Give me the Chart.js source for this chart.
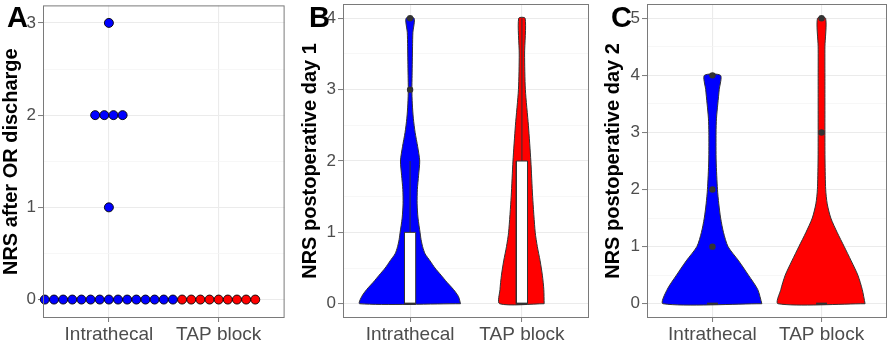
<!DOCTYPE html>
<html>
<head>
<meta charset="utf-8">
<script src="https://cdn.jsdelivr.net/npm/chart.js@4.4.1/dist/chart.umd.min.js"></script>
<style>
  html, body { margin: 0; padding: 0; background: #fff; }
  #wrap { position: relative; width: 893px; height: 342px; overflow: hidden; font-family: "Liberation Sans", Arial, sans-serif; }
  .panel { position: absolute; top: 0; height: 342px; }
  .tag { position: absolute; top: 3px; font-weight: bold; font-size: 29px; line-height: 29px; color: #000; z-index: 2; }
</style>
</head>
<body>
<div id="wrap">
  <div class="panel" style="left:0;width:290px"><canvas id="chartA"></canvas></div>
  <div class="panel" style="left:293px;width:300px"><canvas id="chartB"></canvas></div>
  <div class="panel" style="left:593px;width:300px"><canvas id="chartC"></canvas></div>
  <div class="tag" style="left:7px">A</div>
  <div class="tag" style="left:309px">B</div>
  <div class="tag" style="left:611px">C</div>
</div>
<script>
const categories = ['Intrathecal', 'TAP block'];
const groupColors = ['#0000FF', '#FF0000'];

// panel A - NRS after OR discharge, one value per patient
const orIntrathecal = [0, 0, 0, 0, 0, 0, 0, 0, 0, 0, 0, 0, 0, 0, 0, 1, 2, 2, 2, 2, 3];
const orTap = [0, 0, 0, 0, 0, 0, 0, 0, 0];

// violin outlines: [NRS, half width]
const day1ViolinIntrathecal = [
  [0, 0.451], [0.1, 0.433], [0.2, 0.388], [0.3, 0.330], [0.4, 0.277], [0.5, 0.223],
  [0.6, 0.179], [0.7, 0.134], [0.8, 0.112], [0.9, 0.098], [1.0, 0.089], [1.2, 0.071],
  [1.4, 0.063], [1.6, 0.065], [1.8, 0.076], [2.0, 0.086], [2.2, 0.068], [2.4, 0.045],
  [2.6, 0.029], [2.8, 0.020], [3.0, 0.016], [3.2, 0.018], [3.4, 0.020], [3.6, 0.022],
  [3.8, 0.025], [4.0, 0.036]
];
const day1ViolinTap = [
  [0, 0.199], [0.2, 0.196], [0.4, 0.183], [0.6, 0.163], [0.8, 0.138], [1.0, 0.119],
  [1.5, 0.096], [2.0, 0.080], [2.5, 0.058], [3.0, 0.031], [3.5, 0.024], [4.0, 0.029]
];
const day2ViolinIntrathecal = [
  [0, 0.453], [0.25, 0.415], [0.5, 0.330], [0.75, 0.241], [1.0, 0.143], [1.25, 0.101],
  [1.5, 0.075], [1.75, 0.058], [2.0, 0.046], [2.5, 0.034], [3.0, 0.033], [3.25, 0.037],
  [3.5, 0.049], [3.75, 0.062], [4.0, 0.074]
];
const day2ViolinTap = [
  [0, 0.399], [0.25, 0.373], [0.5, 0.333], [0.75, 0.272], [1.0, 0.208], [1.25, 0.143],
  [1.5, 0.085], [1.75, 0.052], [2.0, 0.038], [2.5, 0.032], [3.0, 0.031], [3.5, 0.031],
  [4.0, 0.031], [4.5, 0.031], [5.0, 0.037]
];

// box stats: [lower whisker, q1, median, q3, upper whisker]
const day1BoxIntrathecal = [0, 0, 0, 1, 2];
const day1BoxTap = [0, 0, 0, 2, 4];
const day2BoxIntrathecal = [0, 0, 0, 0, 0];
const day2BoxTap = [0, 0, 0, 0, 0];
const day1OutliersIntrathecal = [3, 4];
const day1OutliersTap = [];
const day2OutliersIntrathecal = [1, 2, 4];
const day2OutliersTap = [3, 5];

const ticksA = [0, 1, 2, 3];
const ticksB = [0, 1, 2, 3, 4];
const ticksC = [0, 1, 2, 3, 4, 5];

Chart.defaults.font.family = "'Liberation Sans', Arial, sans-serif";

const panelBorder = {
  id: 'panelBorder',
  afterDatasetsDraw(chart) {
    const { ctx, chartArea: a } = chart;
    ctx.save();
    ctx.strokeStyle = '#7a7a7a';
    ctx.lineWidth = 1;
    ctx.strokeRect(a.left + 0.5, a.top + 0.5, a.right - a.left - 1, a.bottom - a.top - 1);
    ctx.restore();
  }
};

function isMinor(c) { return c.tick && c.tick.value % 1 !== 0; }

function xScale() {
  return {
    type: 'linear', min: 0.4, max: 2.6,
    afterBuildTicks: s => { s.ticks = [{ value: 1 }, { value: 2 }]; },
    afterFit: s => { s.height = 24; s.paddingLeft = 0; s.paddingRight = 0; },
    border: { display: false },
    grid: { color: '#EBEBEB', lineWidth: 1.1, tickLength: 4, tickColor: '#7a7a7a', tickWidth: 1 },
    ticks: {
      autoSkip: false, maxRotation: 0, padding: 1, color: '#4D4D4D',
      font: { size: 19 },
      callback: v => categories[v - 1]
    }
  };
}

function yScale(min, max, majors, title, titlePad, width) {
  return {
    type: 'linear', min: min, max: max,
    afterBuildTicks: s => {
      const t = [];
      majors.forEach(m => {
        t.push({ value: m });
        if (m + 0.5 < max) t.push({ value: m + 0.5 });
      });
      s.ticks = t;
    },
    afterFit: s => { s.width = width; s.paddingTop = 0; s.paddingBottom = 0; },
    border: { display: false },
    grid: {
      color: c => isMinor(c) ? '#F4F4F4' : '#EBEBEB',
      lineWidth: c => isMinor(c) ? 0.7 : 1.1,
      tickLength: 5,
      tickWidth: 1,
      tickColor: c => isMinor(c) ? 'rgba(0,0,0,0)' : '#7a7a7a'
    },
    ticks: {
      autoSkip: false, padding: 2, color: '#4D4D4D',
      font: { size: 17 },
      callback: v => (v % 1 === 0 ? String(v) : '')
    },
    title: {
      display: true, text: title, color: '#000',
      font: { size: 20, weight: 'bold', lineHeight: 1 },
      padding: { top: titlePad, bottom: 0 }
    }
  };
}

function baseOptions(yOpts, rightPad) {
  return {
    animation: false,
    responsive: true,
    maintainAspectRatio: false,
    events: [],
    layout: { padding: { top: 2, right: rightPad, left: 0, bottom: 0 } },
    plugins: { legend: { display: false }, tooltip: { enabled: false } },
    scales: { x: xScale(), y: yOpts }
  };
}

// --- panel A: dot plot, stacked sideways across groups
function dotplotPoints() {
  const binW = 0.0833;
  const a = [], b = [];
  const values = Array.from(new Set(orIntrathecal.concat(orTap)));
  values.forEach(v => {
    const n1 = orIntrathecal.filter(d => d === v).length;
    const n2 = orTap.filter(d => d === v).length;
    for (let k = 0; k < n1 + n2; k++) {
      const pt = { x: 1 + (k - (n1 - 1) / 2) * binW, y: v };
      (k < n1 ? a : b).push(pt);
    }
  });
  return [a, b];
}

const dots = dotplotPoints();
new Chart(document.getElementById('chartA'), {
  type: 'scatter',
  data: {
    datasets: dots.map((pts, i) => ({
      data: pts,
      pointRadius: 4.5,
      pointBackgroundColor: groupColors[i],
      pointBorderColor: '#000',
      pointBorderWidth: 0.9,
      clip: false
    }))
  },
  options: baseOptions(yScale(-0.2, 3.19, ticksA, 'NRS after OR discharge', 1, 43), 3),
  plugins: [panelBorder]
});

// --- panels B and C: violin + boxplot
function violinPath(profile, center) {
  const right = profile.map(([v, w]) => ({ x: center + w, y: v }));
  const left = profile.slice().reverse().map(([v, w]) => ({ x: center - w, y: v }));
  return right.concat(left, [right[0]]);
}

function violinDatasets(violins, boxes, outliers) {
  const ds = [];
  const bw = 0.05;
  const line = (data, width, order, extra) => Object.assign({
    data: data, showLine: true, pointRadius: 0, borderColor: '#333333',
    borderWidth: width, fill: false, order: order, tension: 0
  }, extra || {});
  violins.forEach((prof, i) => {
    const c = i + 1;
    ds.push(line(violinPath(prof, c), 1, 5, { fill: 'shape', backgroundColor: groupColors[i], tension: 0.25 }));
    const [lo, q1, med, q3, hi] = boxes[i];
    if (hi > q3) ds.push(line([{ x: c, y: q3 }, { x: c, y: hi }], 1, 4));
    if (q1 > lo) ds.push(line([{ x: c, y: lo }, { x: c, y: q1 }], 1, 4));
    if (q3 > q1) {
      ds.push(line([
        { x: c - bw, y: q1 }, { x: c + bw, y: q1 }, { x: c + bw, y: q3 },
        { x: c - bw, y: q3 }, { x: c - bw, y: q1 }
      ], 1, 3, { fill: 'shape', backgroundColor: '#FFFFFF' }));
    }
    ds.push(line([{ x: c - bw, y: med }, { x: c + bw, y: med }], 2.2, 2));
    if (outliers[i].length) {
      ds.push({
        data: outliers[i].map(v => ({ x: c, y: v })),
        pointRadius: 3.2, pointBackgroundColor: '#333333', pointBorderWidth: 0, order: 1
      });
    }
  });
  return ds;
}

new Chart(document.getElementById('chartB'), {
  type: 'scatter',
  data: {
    datasets: violinDatasets(
      [day1ViolinIntrathecal, day1ViolinTap],
      [day1BoxIntrathecal, day1BoxTap],
      [day1OutliersIntrathecal, day1OutliersTap])
  },
  options: baseOptions(yScale(-0.2, 4.2, ticksB, 'NRS postoperative day 1', 7, 50), 3),
  plugins: [panelBorder]
});

new Chart(document.getElementById('chartC'), {
  type: 'scatter',
  data: {
    datasets: violinDatasets(
      [day2ViolinIntrathecal, day2ViolinTap],
      [day2BoxIntrathecal, day2BoxTap],
      [day2OutliersIntrathecal, day2OutliersTap])
  },
  options: baseOptions(yScale(-0.25, 5.25, ticksC, 'NRS postoperative day 2', 10, 54), 6),
  plugins: [panelBorder]
});
</script>
</body>
</html>
